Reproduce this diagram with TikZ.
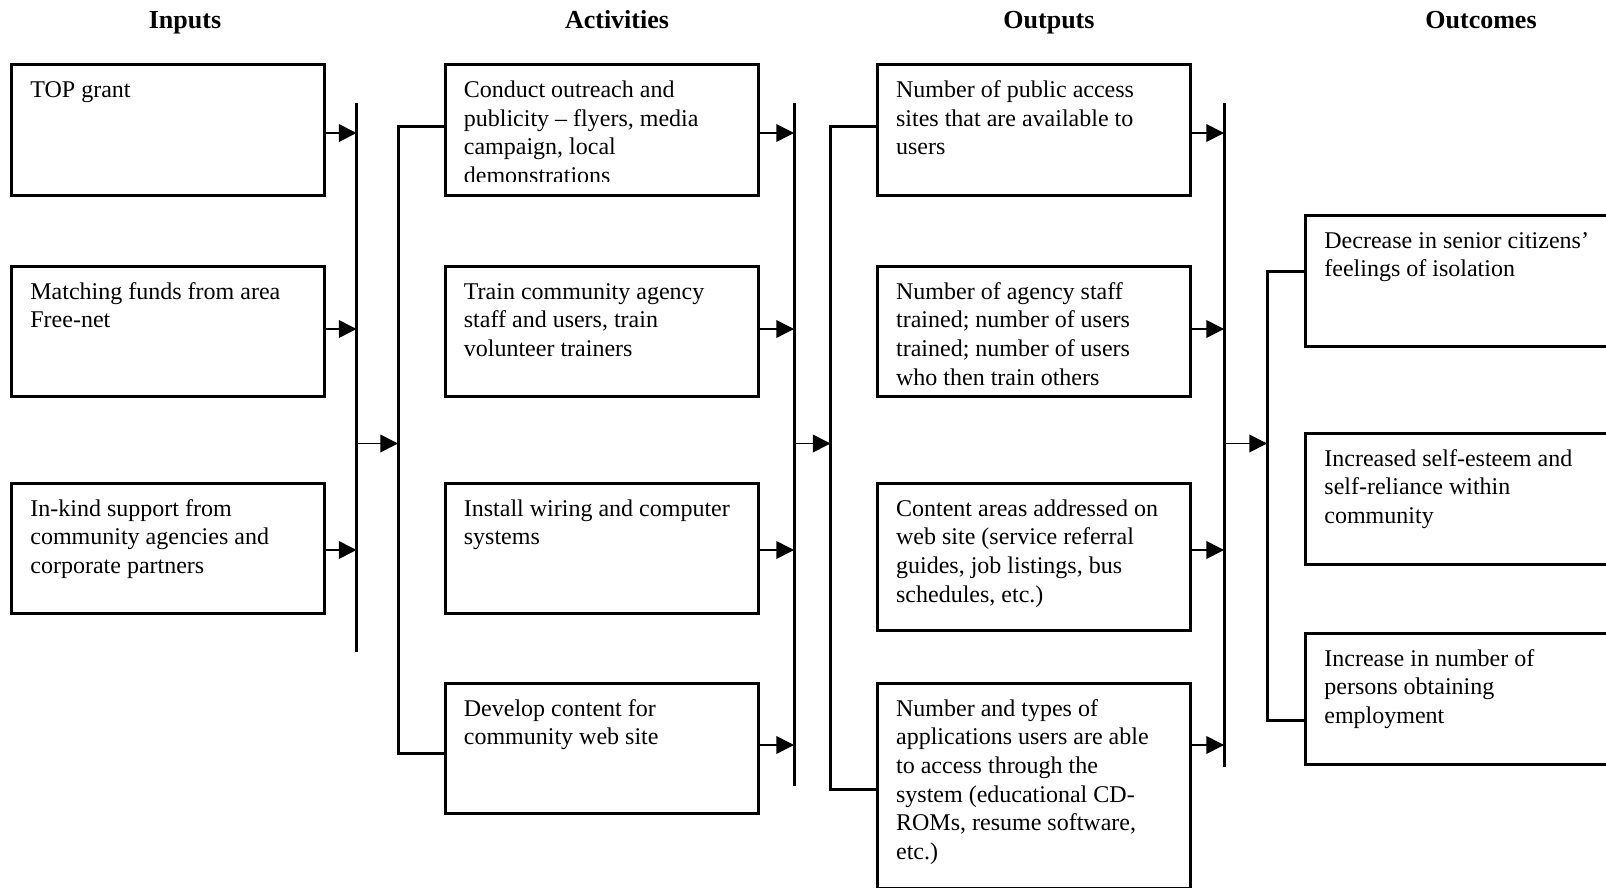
\documentclass[tikz,border=0pt]{standalone}
\usepackage{fontspec}
\setmainfont{Liberation Serif}
\usetikzlibrary{arrows.meta}
\newcommand{\cell}[1]{\parbox[t]{150pt}{\raggedright #1}}
\tikzstyle{head} = [anchor=base, inner sep=0pt, font=\bfseries\fontsize{13}{15}\selectfont]
\tikzstyle{box} = [draw, line width=1.5pt, anchor=north west, inner sep=0pt, minimum width=156.5pt, minimum height=65pt]
\tikzstyle{txt} = [anchor=base west, inner sep=0pt, font=\fontsize{12}{14.35}\selectfont]
\tikzstyle{bus} = [line width=1.5pt]
\tikzstyle{feed} = [->, line width=0.8pt]

\begin{document}
\begin{tikzpicture}[x=0.5pt, y=-0.5pt, >={Triangle[length=8.8pt,width=8.8pt]}]
  \useasboundingbox (0,0) rectangle (1606,888);

  % column headings
  \node (hin) at (185,28.3) [head] {Inputs};
  \node (hact) at (617,28.3) [head] {Activities};
  \node (hout) at (1049,28.3) [head] {Outputs};
  \node (hcome) at (1481,28.3) [head] {Outcomes};

  % inputs
  \node (in1) at (10,63.5) [box] {};
  \node (in2) at (10,265) [box] {};
  \node (in3) at (10,482) [box] {};
  \node (in1t) at ([shift={(10pt,-17pt)}]in1.north west) [txt] {\cell{TOP grant}};
  \node (in2t) at ([shift={(10pt,-17pt)}]in2.north west) [txt] {\cell{Matching funds from area\\Free-net}};
  \node (in3t) at ([shift={(10pt,-17pt)}]in3.north west) [txt] {\cell{In-kind support from\\community agencies and\\corporate partners}};

  % activities
  \node (act1) at (443.5,63.5) [box] {};
  \node (act2) at (443.5,265) [box] {};
  \node (act3) at (443.5,482) [box] {};
  \node (act4) at (443.5,682) [box] {};
  \coordinate (act1cut) at (757,181);
  \begin{scope}
    \clip (act1.north west) rectangle (act1cut);
    \node (act1t) at ([shift={(10pt,-17pt)}]act1.north west) [txt] {\cell{Conduct outreach and\\publicity -- flyers, media\\campaign, local\\demonstrations}};
  \end{scope}
  \node (act2t) at ([shift={(10pt,-17pt)}]act2.north west) [txt] {\cell{Train community agency\\staff and users, train\\volunteer trainers}};
  \node (act3t) at ([shift={(10pt,-17pt)}]act3.north west) [txt] {\cell{Install wiring and computer\\systems}};
  \node (act4t) at ([shift={(10pt,-17pt)}]act4.north west) [txt] {\cell{Develop content for\\community web site}};

  % outputs
  \node (out1) at (875.7,63.5) [box] {};
  \node (out2) at (875.7,265) [box] {};
  \node (out3) at (875.7,482) [box, minimum height=73.5pt] {};
  \node (out4) at (875.7,682) [box, minimum height=102.25pt] {};
  \node (out1t) at ([shift={(10pt,-17pt)}]out1.north west) [txt] {\cell{Number of public access\\sites that are available to\\users}};
  \node (out2t) at ([shift={(10pt,-17pt)}]out2.north west) [txt] {\cell{Number of agency staff\\trained; number of users\\trained; number of users\\who then train others}};
  \node (out3t) at ([shift={(10pt,-17pt)}]out3.north west) [txt] {\cell{Content areas addressed on\\web site (service referral\\guides, job listings, bus\\schedules, etc.)}};
  \node (out4t) at ([shift={(10pt,-17pt)}]out4.north west) [txt] {\cell{Number and types of\\applications users are able\\to access through the\\system (educational CD-\\ROMs, resume software,\\etc.)}};

  % outcomes
  \node (come1) at (1304,214) [box, minimum width=170pt, minimum height=65.5pt] {};
  \node (come2) at (1304,432) [box, minimum width=170pt, minimum height=65.5pt] {};
  \node (come3) at (1304,632) [box, minimum width=170pt, minimum height=65.5pt] {};
  \node (come1t) at ([shift={(10pt,-17pt)}]come1.north west) [txt] {\cell{Decrease in senior citizens’\\feelings of isolation}};
  \node (come2t) at ([shift={(10pt,-17pt)}]come2.north west) [txt] {\cell{Increased self-esteem and\\self-reliance within\\community}};
  \node (come3t) at ([shift={(10pt,-17pt)}]come3.north west) [txt] {\cell{Increase in number of\\persons obtaining\\employment}};

  % bus lines and brackets
  \coordinate (ibus) at (356.5,103.5);
  \coordinate (ibusend) at (356.5,652);
  \coordinate (abus) at (794,103.5);
  \coordinate (abusend) at (794,785.5);
  \coordinate (obus) at (1224,103.5);
  \coordinate (obusend) at (1224,766.5);
  \coordinate (abr) at (398,127);
  \coordinate (abrend) at (398,753.5);
  \coordinate (obr) at (830.5,127);
  \coordinate (obrend) at (830.5,789);
  \coordinate (cbr) at (1267,271.5);
  \coordinate (cbrend) at (1267,720);
  \draw [bus] (ibus) -- (ibusend);
  \draw [bus] (abus) -- (abusend);
  \draw [bus] (obus) -- (obusend);
  \draw [bus] (abr -| act1.west) -- (abr) -- (abrend) -- (abrend -| act4.west);
  \draw [bus] (obr -| out1.west) -- (obr) -- (obrend) -- (obrend -| out4.west);
  \draw [bus] (cbr -| come1.west) -- (cbr) -- (cbrend) -- (cbrend -| come3.west);

  % arrows into the bus lines
  \coordinate (ia1) at (356.5,133);
  \coordinate (ia2) at (356.5,329);
  \coordinate (ia3) at (356.5,550);
  \draw [feed] (ia1 -| in1.east) -- (ia1);
  \draw [feed] (ia2 -| in2.east) -- (ia2);
  \draw [feed] (ia3 -| in3.east) -- (ia3);
  \coordinate (aa1) at (794,133);
  \coordinate (aa2) at (794,329);
  \coordinate (aa3) at (794,550);
  \coordinate (aa4) at (794,745);
  \draw [feed] (aa1 -| act1.east) -- (aa1);
  \draw [feed] (aa2 -| act2.east) -- (aa2);
  \draw [feed] (aa3 -| act3.east) -- (aa3);
  \draw [feed] (aa4 -| act4.east) -- (aa4);
  \coordinate (oa1) at (1224,133);
  \coordinate (oa2) at (1224,329);
  \coordinate (oa3) at (1224,550);
  \coordinate (oa4) at (1224,745);
  \draw [feed] (oa1 -| out1.east) -- (oa1);
  \draw [feed] (oa2 -| out2.east) -- (oa2);
  \draw [feed] (oa3 -| out3.east) -- (oa3);
  \draw [feed] (oa4 -| out4.east) -- (oa4);

  % arrows from bus to next bracket
  \coordinate (imid) at (356.5,443.5);
  \coordinate (amid) at (794,443.5);
  \coordinate (omid) at (1224,443.5);
  \draw [feed] (imid) -- (imid -| abr);
  \draw [feed] (amid) -- (amid -| obr);
  \draw [feed] (omid) -- (omid -| cbr);
\end{tikzpicture}
\end{document}
